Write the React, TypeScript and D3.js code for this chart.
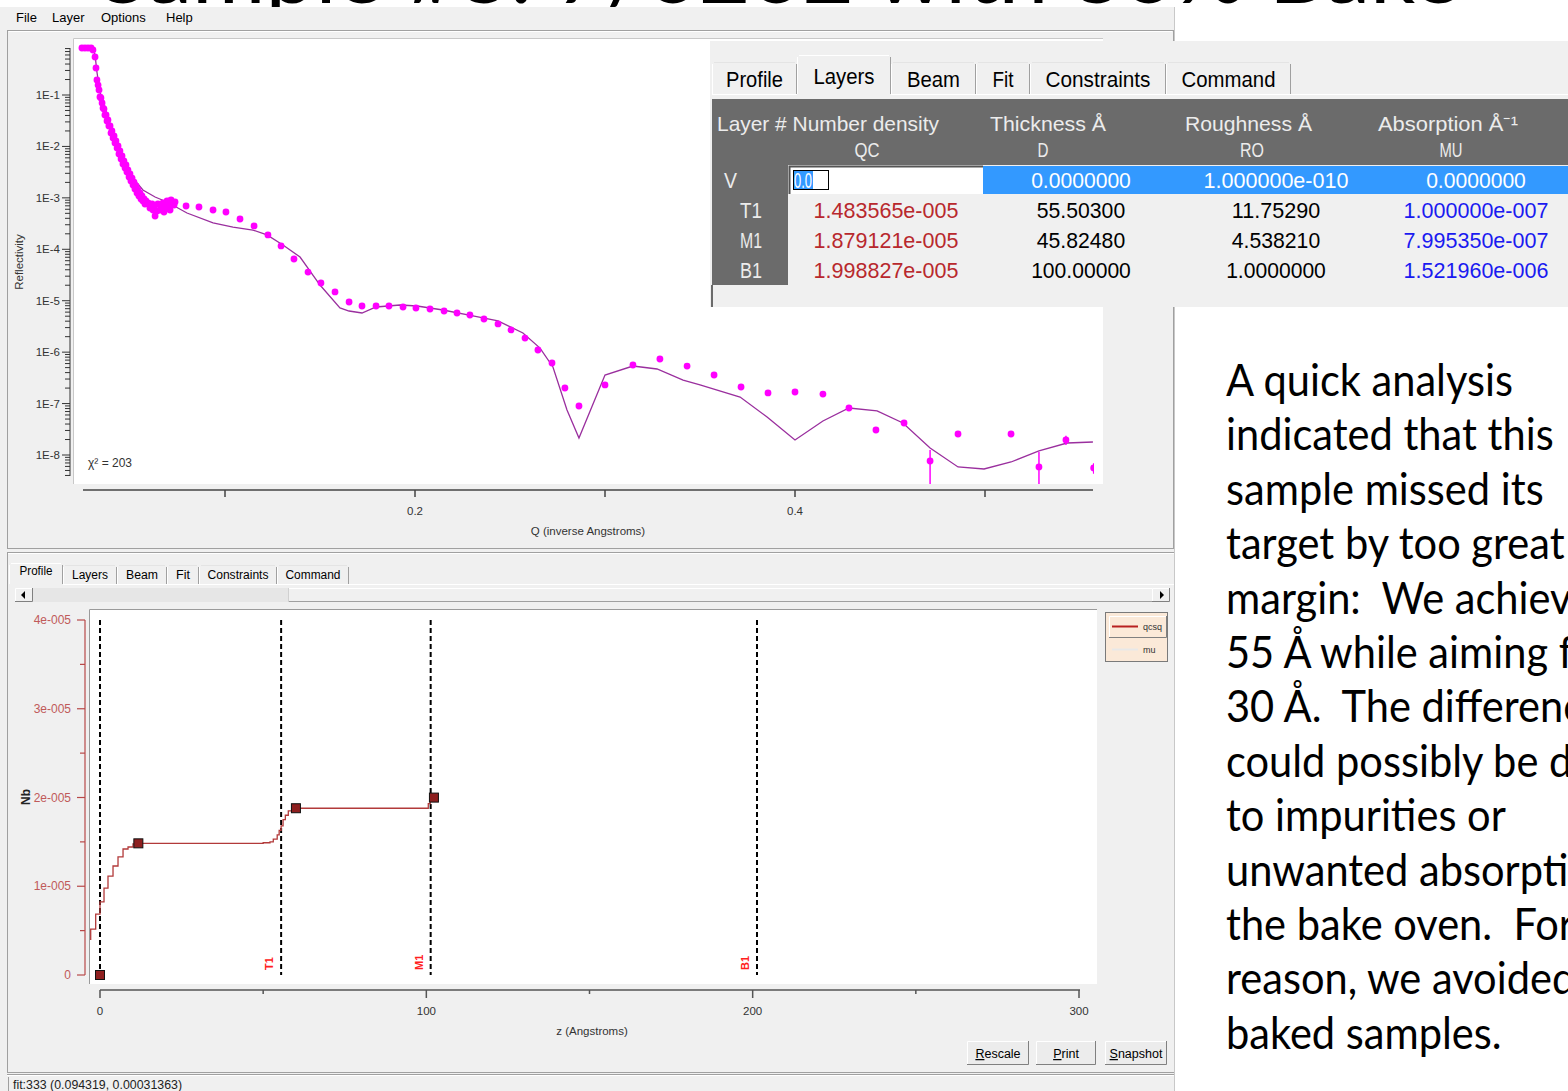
import React, { useLayoutEffect, useRef, useState } from 'react';
import * as d3 from 'd3';

// ---------- measured reflectivity (Q in 1/Å, R) ----------
const measQ = [
  0.0247, 0.0263, 0.0279, 0.0295, 0.0305, 0.0316, 0.0321, 0.0326, 0.0332, 0.0337,
  0.0342, 0.0347, 0.0353, 0.0358, 0.0363, 0.0368, 0.0374, 0.0379, 0.0384, 0.0389,
  0.0395, 0.0400, 0.0405, 0.0411, 0.0416, 0.0421, 0.0426, 0.0432, 0.0437, 0.0442,
  0.0447, 0.0453, 0.0458, 0.0463, 0.0468, 0.0474, 0.0479, 0.0484, 0.0489, 0.0495,
  0.0500, 0.0505, 0.0511, 0.0516, 0.0521, 0.0526, 0.0532, 0.0537, 0.0542, 0.0547,
  0.0553, 0.0558, 0.0563, 0.0568, 0.0574, 0.0579, 0.0584, 0.0595,
  0.0605, 0.0605, 0.0616, 0.0621, 0.0626, 0.0632, 0.0642, 0.0647, 0.0658, 0.0668,
  0.0674, 0.0679, 0.0689, 0.0695, 0.0700, 0.0711, 0.0716, 0.0721, 0.0732, 0.0737,
  0.0795, 0.0863, 0.0937, 0.1005, 0.1079, 0.1153, 0.1226, 0.1295, 0.1363, 0.1437,
  0.1505, 0.1579, 0.1653, 0.1721, 0.1795, 0.1863, 0.1937, 0.2005, 0.2079, 0.2153,
  0.2221, 0.2289, 0.2363, 0.2437, 0.2505, 0.2579, 0.2647, 0.2721, 0.2789, 0.2863,
  0.3000, 0.3147, 0.3289, 0.3432, 0.3574, 0.3716, 0.3858, 0.4000, 0.4147, 0.4284,
  0.4426, 0.4574, 0.4711, 0.4858, 0.5137, 0.5284, 0.5426, 0.5572,
];
const measR = [
  0.82, 0.82, 0.82, 0.82, 0.75, 0.548, 0.335, 0.196, 0.156, 0.125,
  0.0914, 0.0875, 0.0699, 0.0558, 0.0534, 0.0408, 0.0408, 0.0312, 0.0327, 0.0250,
  0.0250, 0.0182, 0.0200, 0.0146, 0.0160, 0.0117, 0.0128, 0.00931, 0.0102, 0.00713,
  0.00815, 0.00570, 0.00652, 0.00455, 0.00521, 0.00381, 0.00436, 0.00318, 0.00348, 0.00255,
  0.00291, 0.00213, 0.00243, 0.00178, 0.00203, 0.00149, 0.00170, 0.00124, 0.00142, 0.00109,
  0.00124, 0.00095, 0.00109, 0.000869, 0.00095, 0.00076, 0.000869, 0.000794,
  7.26e-4, 6.35e-4, 7.6e-4, 5.81e-4, 6.64e-4, 4.44e-4, 5.56e-4, 7.6e-4, 5.81e-4, 6.35e-4,
  7.94e-4, 5.31e-4, 6.07e-4, 8.69e-4, 6.95e-4, 5.81e-4, 9.08e-4, 7.94e-4, 7.26e-4, 8.3e-4,
  6.95e-4, 6.64e-4, 5.81e-4, 5.31e-4, 3.88e-4, 2.84e-4, 1.9e-4, 1.16e-4, 6.47e-5, 3.61e-5,
  2.21e-5, 1.48e-5, 9.45e-6, 7.89e-6, 7.89e-6, 7.89e-6, 7.55e-6, 7.22e-6, 6.9e-6, 6.31e-6,
  5.77e-6, 5.27e-6, 4.41e-6, 3.53e-6, 2.7e-6, 1.88e-6, 1.1e-6, 6.15e-7, 2.01e-7, 8.97e-8,
  2.3e-7, 5.62e-7, 7.36e-7, 5.37e-7, 3.59e-7, 2.1e-7, 1.61e-7, 1.68e-7, 1.53e-7, 8.2e-8,
  3.06e-8, 4.19e-8, 7.64e-9, 2.56e-8, 2.56e-8, 5.85e-9, 1.96e-8, 5.6e-9,
];
// points whose uncertainty bars are visible
const errQ = [0.4711, 0.5284, 0.5426, 0.5572];
const errR = [7.64e-9, 5.85e-9, 1.96e-8, 5.6e-9];
const errSigma = [4.9e-9, 5.6e-9, 4.0e-9, 1.3e-9];

// ---------- model fit ----------
const fitQ = [
  0.0253, 0.0305, 0.0316, 0.0326, 0.0342, 0.0368, 0.0395, 0.0421, 0.0447, 0.0474,
  0.05, 0.0537, 0.0568, 0.0632, 0.0695, 0.08, 0.0937, 0.1042, 0.1147, 0.1221,
  0.1305, 0.1395, 0.15, 0.1605, 0.1653, 0.1721, 0.1795, 0.1921, 0.2011, 0.2147,
  0.2305, 0.2437, 0.2568, 0.2658, 0.2726, 0.28, 0.2863, 0.3, 0.3147, 0.3274,
  0.3411, 0.35, 0.3711, 0.3853, 0.4, 0.4147, 0.4284, 0.4432, 0.4568, 0.4711,
  0.4858, 0.4995, 0.5137, 0.5284, 0.5432, 0.5568,
];
const fitR = [
  0.82, 0.82, 0.6, 0.28, 0.114, 0.0558, 0.0273, 0.0139, 0.00779, 0.00455,
  0.00291, 0.00195, 0.00142, 0.00104, 8.3e-4, 5.08e-4, 3.25e-4, 2.71e-4, 2.37e-4, 1.9e-4,
  1.21e-4, 7.08e-5, 2.02e-5, 7.22e-6, 6.31e-6, 5.77e-6, 7.55e-6, 8.26e-6, 7.89e-6, 6.6e-6,
  5.05e-6, 4.04e-6, 2.36e-6, 1.2e-6, 5.14e-7, 7.5e-8, 2.14e-8, 3.59e-7, 5.37e-7, 4.7e-7,
  2.87e-7, 2.3e-7, 1.34e-7, 5.48e-8, 1.96e-8, 4.58e-8, 8.2e-8, 7.18e-8, 4.19e-8, 1.37e-8,
  5.85e-9, 5.35e-9, 7.31e-9, 1.2e-8, 1.71e-8, 1.79e-8,
];
const chiSq = 203;

const reflMajor = [1e-1, 1e-2, 1e-3, 1e-4, 1e-5, 1e-6, 1e-7, 1e-8];
const reflLabels = ['1E-1', '1E-2', '1E-3', '1E-4', '1E-5', '1E-6', '1E-7', '1E-8'];
const qTicks = [0.1, 0.2, 0.3, 0.4, 0.5];
const qLabelled = [0.2, 0.4];

// ---------- layer table ----------
const layerNames = ['V', 'T1', 'M1', 'B1'];
const layerQC = [0, 1.483565e-5, 1.879121e-5, 1.998827e-5];
const layerD = [0, 55.503, 45.8248, 100];
const layerRO = [1e-10, 11.7529, 4.53821, 1.0];
const layerMU = [0, 1.0e-7, 7.99535e-7, 1.52196e-6];

// ---------- scattering-length-density profile (microslab steps) ----------
const profZ = [
  -2.85, -2.85, -1.32, 0, 1.23, 2.45, 3.99, 5.52, 7.06, 8.59, 10.12, 11.35,
  50.0, 52.1, 53.1, 54.3, 54.9, 55.5, 56.1, 56.8, 57.7, 58.9, 60.4,
  100.6, 101.2, 101.8, 103.5,
];
const profNb = [
  0.394e-5, 0.518e-5, 0.687e-5, 0.823e-5, 0.98e-5, 1.115e-5, 1.228e-5, 1.33e-5, 1.42e-5, 1.442e-5, 1.476e-5, 1.4836e-5,
  1.49e-5, 1.5e-5, 1.53e-5, 1.58e-5, 1.63e-5, 1.68e-5, 1.75e-5, 1.8e-5, 1.85e-5, 1.87e-5, 1.879e-5,
  1.93e-5, 2.0e-5, 2.0e-5, 2.0e-5,
];
const nbTicks = [0, 1e-5, 2e-5, 3e-5, 4e-5];
const nbLabels = ['0', '1e-005', '2e-005', '3e-005', '4e-005'];
const zTicks = [0, 50, 100, 150, 200, 250, 300];
const zLabelled = [0, 100, 200, 300];

const noteLines = [
  'A quick analysis',
  'indicated that this',
  'sample missed its',
  'target by too great a',
  'margin:  We achieved',
  '55 Å while aiming for',
  '30 Å.  The difference',
  'could possibly be due',
  'to impurities or',
  'unwanted absorption in',
  'the bake oven.  For this',
  'reason, we avoided',
  'baked samples.',
];

const UI = "'Liberation Sans', Arial, sans-serif";
const BG = '#f0f0f0';
const FRAME = '#a0a0a0';

function fmtSci(v: number) {
  const [m, e] = v.toExponential(6).split('e');
  const neg = e.startsWith('-');
  return `${m}e${neg ? '-' : '+'}${e.replace(/[+-]/, '').padStart(3, '0')}`;
}
function fmtVal(v: number) {
  if (v === 0) return '0.0000000';
  if (Math.abs(v) < 1e-3) return fmtSci(v);
  if (Number.isInteger(v)) return v.toFixed(8 - String(Math.trunc(v)).length);
  return v.toPrecision(7);
}

function Tabs({ tabs, y, h, size, raise }: any) {
  return (
    <g fontFamily={UI} fontSize={size}>
      {tabs.map((t: any, i: number) => {
        const top = t.sel ? y - raise : y;
        return (
          <g key={i}>
            {t.sel && <rect x={t.x0} y={top} width={t.x1 - t.x0} height={h + raise + 1} fill={BG} />}
            <line x1={t.x0 + 0.5} y1={top + 2} x2={t.x0 + 0.5} y2={y + h} stroke="#ffffff" />
            <line x1={t.x0 + 2} y1={top + 0.5} x2={t.x1 - 2} y2={top + 0.5} stroke={t.sel ? '#ffffff' : '#e4e4e4'} />
            <line x1={t.x1 - 0.5} y1={top + 2} x2={t.x1 - 0.5} y2={y + h} stroke={FRAME} />
            <text
              x={(t.x0 + t.x1) / 2}
              y={t.base - (t.sel ? raise / 2 : 0)}
              textAnchor="middle"
              fill="#000"
              textLength={t.w}
              lengthAdjust="spacingAndGlyphs"
            >
              {t.t}
            </text>
          </g>
        );
      })}
    </g>
  );
}

function LayerTable() {
  const tabs = [
    { t: 'Profile', x0: 712, x1: 797, w: 57, base: 87 },
    { t: 'Layers', x0: 797, x1: 891, w: 61, base: 87, sel: true },
    { t: 'Beam', x0: 891, x1: 976, w: 53, base: 87 },
    { t: 'Fit', x0: 976, x1: 1030, w: 21, base: 87 },
    { t: 'Constraints', x0: 1030, x1: 1166, w: 105, base: 87 },
    { t: 'Command', x0: 1166, x1: 1291, w: 94, base: 87 },
  ];
  const colC = [886, 1081, 1276, 1476];
  const rowC = [180, 210, 240, 270];
  const charW = 11.3;
  const cell = (s: string, cx: number, cy: number, fill: string, key: string) => (
    <text key={key} x={cx} y={cy + 8} textAnchor="middle" fill={fill}
      textLength={s.length * charW - (s.includes('.') ? 2 : 0)} lengthAdjust="spacingAndGlyphs">{s}</text>
  );
  return (
    <g>
      <rect x={710} y={41} width={858} height={266} fill={BG} />
      <line x1={712} y1={94.5} x2={1568} y2={94.5} stroke="#ffffff" />
      <Tabs tabs={tabs} y={62} h={32} size={22} raise={7} />
      {/* header */}
      <rect x={712} y={99} width={856} height={66} fill="#6b6b6b" />
      <g fontFamily={UI} fontSize={21} fill="#ececec">
        <text x={717} y={131} textLength={222} lengthAdjust="spacingAndGlyphs">Layer # Number density</text>
        <text x={990} y={131} textLength={116} lengthAdjust="spacingAndGlyphs">Thickness Å</text>
        <text x={1185} y={131} textLength={127} lengthAdjust="spacingAndGlyphs">Roughness Å</text>
        <text x={1378} y={131} textLength={140} lengthAdjust="spacingAndGlyphs">Absorption Å⁻¹</text>
        <text x={867} y={157} textAnchor="middle" textLength={25} lengthAdjust="spacingAndGlyphs">QC</text>
        <text x={1043} y={157} textAnchor="middle" textLength={11} lengthAdjust="spacingAndGlyphs">D</text>
        <text x={1252} y={157} textAnchor="middle" textLength={24} lengthAdjust="spacingAndGlyphs">RO</text>
        <text x={1451} y={157} textAnchor="middle" textLength={23} lengthAdjust="spacingAndGlyphs">MU</text>
      </g>
      {/* row header column */}
      <rect x={712} y={165} width={76} height={120} fill="#6b6b6b" />
      <line x1={712} y1={285} x2={712} y2={307} stroke="#6b6b6b" strokeWidth={2} />
      {/* selected row */}
      <rect x={983} y={166} width={585} height={28} fill="#3399ff" />
      <rect x={789} y={166} width={194} height={28} fill="#ffffff" />
      <path d="M789.5,194 V166.5 H983" fill="none" stroke="#555" strokeWidth={2} />
      <rect x={793} y={170} width={20} height={20} fill="#3399ff" />
      <rect x={793.5} y={170.5} width={35} height={19} fill="none" stroke="#000" strokeWidth={1} />
      <g fontFamily={UI} fontSize={22}>
        <text x={794} y={188} fill="#ffffff" textLength={18} lengthAdjust="spacingAndGlyphs">0.0</text>
        {layerNames.map((n, i) => (
          <text key={n} x={i === 0 ? 724 : 751} y={rowC[i] + 8} textAnchor={i === 0 ? 'start' : 'middle'}
            fill="#ececec" textLength={n.length === 1 ? 13 : 22} lengthAdjust="spacingAndGlyphs">{n}</text>
        ))}
        {layerNames.map((n, i) => (
          <g key={'r' + n}>
            {i > 0 && cell(fmtSci(layerQC[i]), colC[0], rowC[i], '#b8282d', 'qc' + i)}
            {cell(fmtVal(layerD[i]), colC[1], rowC[i], i === 0 ? '#ffffff' : '#000000', 'd' + i)}
            {cell(fmtVal(layerRO[i]), colC[2], rowC[i], i === 0 ? '#ffffff' : '#000000', 'ro' + i)}
            {cell(fmtVal(layerMU[i]), colC[3], rowC[i], i === 0 ? '#ffffff' : '#1a1af0', 'mu' + i)}
          </g>
        ))}
      </g>
    </g>
  );
}

function Button({ x, w, label }: any) {
  const y = 1041, h = 24;
  return (
    <g>
      <rect x={x} y={y} width={w} height={h} fill="#ececec" />
      <path d={`M${x + 0.5},${y + h} V${y + 0.5} H${x + w}`} fill="none" stroke="#ffffff" />
      <path d={`M${x},${y + h - 0.5} H${x + w - 0.5} V${y}`} fill="none" stroke="#808080" />
      <text x={x + w / 2} y={1058} textAnchor="middle" fontFamily={UI} fontSize={12.5} fill="#000" textDecoration="none">
        <tspan textDecoration="underline">{label[0]}</tspan>{label.slice(1)}
      </text>
    </g>
  );
}

export default function App() {
  const noteRef = useRef<SVGTextElement>(null);
  const [noteSx, setNoteSx] = useState(1);
  useLayoutEffect(() => {
    const el = noteRef.current;
    if (el) {
      const w = el.getComputedTextLength();
      if (w > 0) setNoteSx(287 / w);
    }
  }, []);

  // reflectivity plot scales
  const xQ = d3.scaleLinear().domain([0, 0.4]).range([35, 795]);
  const yR = d3.scaleLog().domain([1e-1, 1e-8]).range([95, 455]);
  const rAxisTicks = d3.scaleLog().domain([4e-9, 0.85]).ticks();
  const fitLine = d3.line<number>().x((_, i) => xQ(fitQ[i])).y((d) => yR(d));

  // profile plot scales
  const xZ = d3.scaleLinear().domain([0, 300]).range([100, 1079]);
  const yN = d3.scaleLinear().domain([0, 4e-5]).range([975, 620]);
  const profLine = d3.line<number>().x((_, i) => xZ(profZ[i])).y((d) => yN(d)).curve(d3.curveStepAfter);

  // interfaces and layer markers from the table
  const interfaces = [0];
  for (let i = 1; i < layerD.length; i++) interfaces.push(interfaces[i - 1] + layerD[i]);
  const markerZ = layerNames.map((_, i) => (i === 0 ? 0 : interfaces[i - 1] + layerRO[i]));

  const lowerTabs = [
    { t: 'Profile', x0: 9, x1: 63, w: 33, base: 576, sel: true },
    { t: 'Layers', x0: 63, x1: 117, w: 36, base: 579 },
    { t: 'Beam', x0: 117, x1: 167, w: 32, base: 579 },
    { t: 'Fit', x0: 167, x1: 199, w: 14, base: 579 },
    { t: 'Constraints', x0: 199, x1: 277, w: 61, base: 579 },
    { t: 'Command', x0: 277, x1: 349, w: 55, base: 579 },
  ];

  return (
    <svg width={1568} height={1091} viewBox="0 0 1568 1091"
      style={{ position: 'absolute', left: 0, top: 0, display: 'block' }}>
      <defs>
        <clipPath id="reflClip"><rect x={73} y={38} width={1021} height={446} /></clipPath>
        <clipPath id="profClip"><rect x={89} y={609} width={1008} height={375} /></clipPath>
        <clipPath id="headClip"><rect x={0} y={0} width={1568} height={7} /></clipPath>
      </defs>
      <rect x={0} y={0} width={1568} height={1091} fill="#ffffff" />
      {/* slide heading, mostly hidden behind the window */}
      <g clipPath="url(#headClip)">
        <text x={100} y={3} fontFamily="Lato, 'Open Sans', sans-serif" fontSize={80} fill="#000"
          textLength={1360} lengthAdjust="spacingAndGlyphs">
          Sample #3: 7/0202 with 30% Bake
        </text>
      </g>

      {/* application window */}
      <rect x={0} y={7} width={1175} height={1084} fill={BG} />
      <g fontFamily={UI} fontSize={13} fill="#000">
        <text x={16} y={22}>File</text>
        <text x={52} y={22}>Layer</text>
        <text x={101} y={22}>Options</text>
        <text x={166} y={22}>Help</text>
      </g>
      <rect x={7.5} y={30.5} width={1166} height={518} fill="none" stroke={FRAME} />
      <line x1={8.5} y1={31.5} x2={1172} y2={31.5} stroke="#ffffff" />

      {/* ---- reflectivity plot ---- */}
      <rect x={73} y={38} width={1030} height={446} fill="#ffffff" />
      <path d="M73.5,484 V38.5 H1103" fill="none" stroke="#c8c8c8" />
      <line x1={70} y1={48} x2={70} y2={476} stroke="#333" />
      {rAxisTicks.map((t, i) => {
        const major = reflMajor.some((m) => Math.abs(m - t) / m < 1e-6);
        return <line key={i} x1={major ? 62 : 65} x2={70} y1={yR(t)} y2={yR(t)} stroke="#333" />;
      })}
      <g fontFamily={UI} fontSize={11.5} fill="#333" textAnchor="end">
        {reflMajor.map((t, i) => (
          <text key={i} x={60} y={yR(t) + 4}>{reflLabels[i]}</text>
        ))}
      </g>
      <text transform="translate(23,262) rotate(-90)" textAnchor="middle" fontFamily={UI} fontSize={11.5} fill="#333">
        Reflectivity
      </text>
      <line x1={83} x2={1093} y1={490} y2={490} stroke="#444" strokeWidth={1.5} />
      {qTicks.map((t) => (
        <line key={t} x1={xQ(t)} x2={xQ(t)} y1={490} y2={497} stroke="#444" strokeWidth={1.5} />
      ))}
      <g fontFamily={UI} fontSize={11.5} fill="#333" textAnchor="middle">
        {qLabelled.map((t) => (
          <text key={t} x={xQ(t)} y={515}>{t.toFixed(1)}</text>
        ))}
        <text x={588} y={535}>Q (inverse Angstroms)</text>
      </g>
      <g clipPath="url(#reflClip)">
        <path d={fitLine(fitR) || ''} fill="none" stroke="#9a2f9e" strokeWidth={1.3} />
        {errQ.map((q, i) => (
          <line key={i} x1={xQ(q)} x2={xQ(q)} y1={yR(errR[i] + errSigma[i])}
            y2={errR[i] - errSigma[i] > 0 ? yR(errR[i] - errSigma[i]) : 484}
            stroke="#ff00ff" strokeWidth={1.5} />
        ))}
        {measR.map((r, i) => (
          <circle key={i} cx={xQ(measQ[i])} cy={yR(r)} r={3.4} fill="#ff00ff" />
        ))}
      </g>
      <text x={88} y={467} fontFamily={UI} fontSize={12} fill="#333">χ² = {chiSq}</text>

      {/* ---- panel divider ---- */}
      <line x1={7} y1={552.5} x2={1175} y2={552.5} stroke={FRAME} />
      <line x1={7} y1={553.5} x2={1175} y2={553.5} stroke="#ffffff" />
      <line x1={7.5} y1={553} x2={7.5} y2={1073} stroke={FRAME} />

      {/* ---- profile panel ---- */}
      <line x1={9} y1={584.5} x2={1175} y2={584.5} stroke="#ffffff" />
      <Tabs tabs={lowerTabs} y={565} h={19} size={12} raise={2} />
      {/* scroll bar */}
      <rect x={15} y={588} width={1155} height={14} fill="#e6e6e6" />
      <rect x={288} y={588} width={864} height={14} fill={BG} />
      <line x1={288} y1={588.5} x2={1152} y2={588.5} stroke="#ffffff" />
      <line x1={288} y1={601.5} x2={1152} y2={601.5} stroke="#a0a0a0" />
      <line x1={288.5} y1={588} x2={288.5} y2={602} stroke="#d0d0d0" />
      {[15, 1152].map((bx) => (
        <g key={bx}>
          <rect x={bx} y={588} width={18} height={14} fill={BG} />
          <path d={`M${bx + 0.5},${602} V${588.5} H${bx + 18}`} fill="none" stroke="#ffffff" />
          <path d={`M${bx},${601.5} H${bx + 17.5} V${588}`} fill="none" stroke="#808080" />
        </g>
      ))}
      <path d="M21,595 L25,591 L25,599 Z" fill="#000" />
      <path d="M1164,595 L1160,591 L1160,599 Z" fill="#000" />

      <rect x={89} y={609} width={1008} height={375} fill="#ffffff" />
      <path d="M89.5,984 V609.5 H1097" fill="none" stroke="#9a9a9a" />
      {/* Nb axis */}
      <line x1={85} x2={85} y1={620} y2={975} stroke="#b84848" strokeWidth={1.2} />
      {d3.range(0, 4.01e-5, 0.5e-5).map((t, i) => (
        <line key={i} x1={i % 2 === 0 ? 77 : 80} x2={85} y1={yN(t)} y2={yN(t)} stroke="#b84848" strokeWidth={1.2} />
      ))}
      <g fontFamily={UI} fontSize={12} fill="#c05a5a" textAnchor="end">
        {nbTicks.map((t, i) => (
          <text key={i} x={71} y={yN(t) + 4}>{nbLabels[i]}</text>
        ))}
      </g>
      <text transform="translate(30,797) rotate(-90)" textAnchor="middle" fontFamily={UI} fontSize={12}
        fontWeight="bold" fill="#222">Nb</text>
      {/* z axis */}
      <line x1={100} x2={1080} y1={990} y2={990} stroke="#555" strokeWidth={1.5} />
      {zTicks.map((t) => (
        <line key={t} x1={xZ(t)} x2={xZ(t)} y1={990} y2={zLabelled.includes(t) ? 998 : 994}
          stroke="#555" strokeWidth={1.5} />
      ))}
      <g fontFamily={UI} fontSize={11.5} fill="#333" textAnchor="middle">
        {zLabelled.map((t) => (
          <text key={t} x={xZ(t)} y={1015}>{t}</text>
        ))}
        <text x={592} y={1035}>z (Angstroms)</text>
      </g>
      {/* interfaces */}
      {interfaces.map((z, i) => (
        <g key={i}>
          <line x1={xZ(z)} x2={xZ(z)} y1={620} y2={975} stroke="#000" strokeWidth={2} strokeDasharray="5,3" />
          {i > 0 && (
            <text transform={`translate(${xZ(z) - 8},${970}) rotate(-90)`} fontFamily={UI} fontSize={11}
              fontWeight="bold" fill="#ff2020">{layerNames[i]}</text>
          )}
        </g>
      ))}
      <g clipPath="url(#profClip)">
        <path d={profLine(profNb) || ''} fill="none" stroke="#b23a3a" strokeWidth={1.3} />
        {markerZ.map((z, i) => (
          <rect key={i} x={xZ(z) - 4.5} y={yN(layerQC[i]) - 4.5} width={9} height={9}
            fill="#8e1f1f" stroke="#111" strokeWidth={1} />
        ))}
      </g>
      {/* legend */}
      <rect x={1105.5} y={612.5} width={62} height={49} fill="#fbe9d8" stroke="#7a7a7a" />
      <rect x={1109} y={616} width={58} height={22} fill="#fbe9d8" />
      <path d="M1109.5,638 V616.5 H1167" fill="none" stroke="#ffffff" />
      <path d="M1109,637.5 H1166.5 V616" fill="none" stroke="#808080" />
      <line x1={1112} x2={1138} y1={626.5} y2={626.5} stroke="#b82020" strokeWidth={2} />
      <line x1={1112} x2={1138} y1={649.5} y2={649.5} stroke="#e8e8e8" strokeWidth={2} />
      <g fontFamily={UI} fontSize={9} fill="#333">
        <text x={1143} y={630}>qcsq</text>
        <text x={1143} y={653}>mu</text>
      </g>
      {/* buttons */}
      <Button x={967} w={62} label="Rescale" />
      <Button x={1036} w={60} label="Print" />
      <Button x={1105} w={62} label="Snapshot" />

      {/* status bar */}
      <line x1={7} y1={1072.5} x2={1175} y2={1072.5} stroke={FRAME} />
      <line x1={7} y1={1074.5} x2={1175} y2={1074.5} stroke={FRAME} />
      <line x1={7} y1={1075.5} x2={1175} y2={1075.5} stroke="#ffffff" />
      <line x1={8.5} y1={1077} x2={8.5} y2={1091} stroke={FRAME} />
      <text x={13} y={1089} fontFamily={UI} fontSize={12} fill="#222" textLength={169} lengthAdjust="spacingAndGlyphs">
        fit:333 (0.094319, 0.00031363)
      </text>
      <line x1={1174.5} y1={7} x2={1174.5} y2={1091} stroke="#c8c8c8" />

      {/* layer table window */}
      <LayerTable />

      {/* note text */}
      <g transform={`translate(1226,0) scale(${noteSx},1)`} fontFamily="Lato, 'Open Sans', sans-serif" fontSize={45} fill="#000">
        {noteLines.map((l, i) => (
          <text key={i} ref={i === 0 ? noteRef : undefined} x={0} y={396 + i * 54.4} xmlSpace="preserve"
            style={{ whiteSpace: 'pre' }}>{l}</text>
        ))}
      </g>
    </svg>
  );
}
